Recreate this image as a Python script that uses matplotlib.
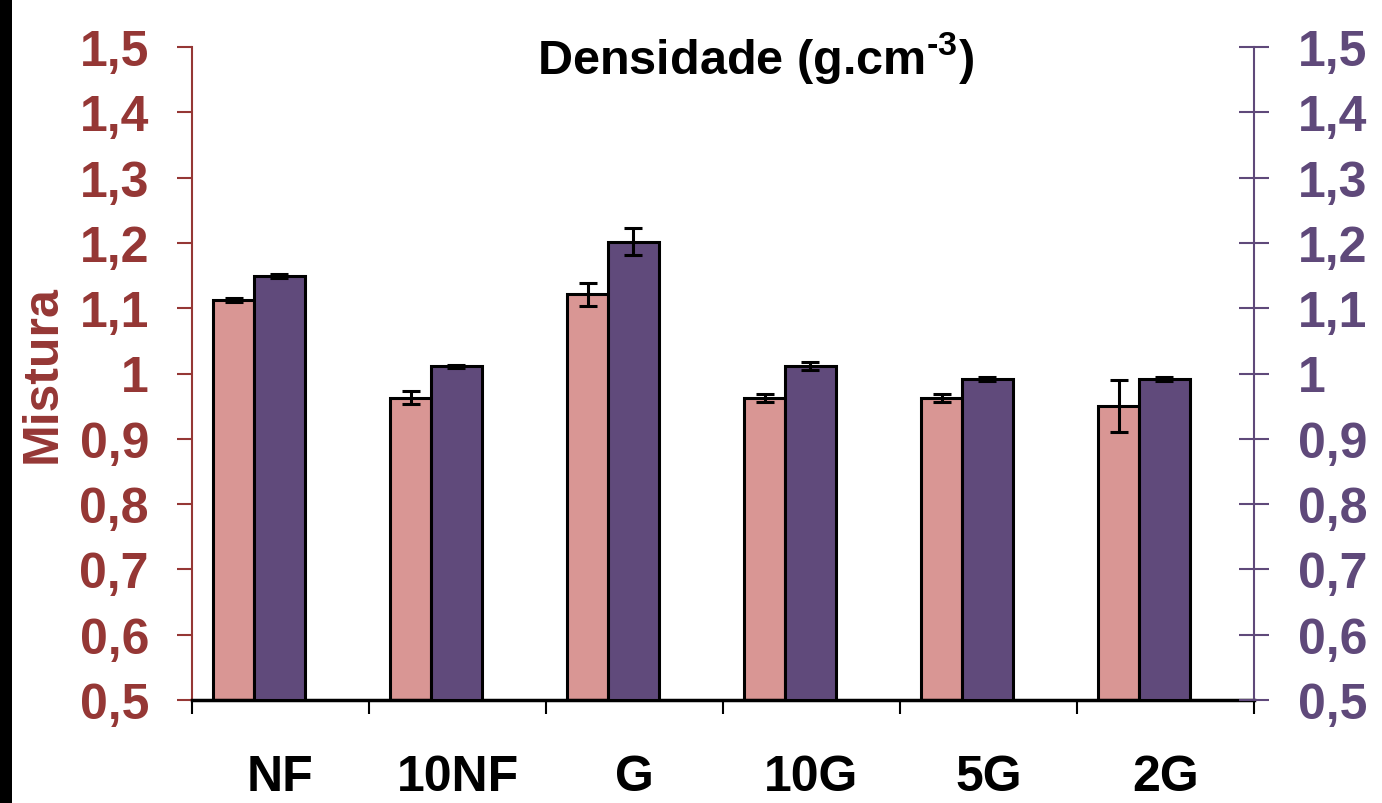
import matplotlib
matplotlib.use("Agg")
import matplotlib.pyplot as plt
from matplotlib.patches import Rectangle
import numpy as np

plt.rcParams['font.family'] = ['Liberation Sans', 'DejaVu Sans']
plt.rcParams['font.weight'] = 'bold'
plt.rcParams['mathtext.fontset'] = 'custom'
plt.rcParams['mathtext.bf'] = 'Liberation Sans:bold'
plt.rcParams['mathtext.rm'] = 'Liberation Sans:bold'

categorias = ['NF', '10NF', 'G', '10G', '5G', '2G']
mistura = [1.112, 0.963, 1.121, 0.962, 0.962, 0.950]
mistura_err = [0.003, 0.010, 0.018, 0.006, 0.006, 0.040]
serie2 = [1.149, 1.011, 1.202, 1.012, 0.992, 0.992]
serie2_err = [0.003, 0.002, 0.021, 0.006, 0.003, 0.003]
yticks = [0.5, 0.6, 0.7, 0.8, 0.9, 1.0, 1.1, 1.2, 1.3, 1.4, 1.5]

vermelho = '#953735'
roxo_txt = '#5F497A'
rosa = '#D99694'
roxo = '#604A7B'

def fmt(v):
    s = f'{v:.1f}'.replace('.', ',')
    return '1' if s == '1,0' else s

fig = plt.figure(figsize=(13.82, 8.04), dpi=100)
ax = fig.add_axes([192/1382, 1-701/804, (1254-192)/1382, (701-48)/804])
ax2 = ax.twinx()

x = np.arange(len(categorias))
ax.bar(x + 0.119, np.array(mistura) - 0.5, width=0.231, bottom=0.5, align='edge',
       color=rosa, edgecolor='black', linewidth=2.2)
ax.errorbar(x + 0.119 + 0.1155, mistura, yerr=mistura_err, fmt='none',
            ecolor='black', elinewidth=2.2, capsize=6.5, capthick=2.2, zorder=5)
ax2.bar(x + 0.35, np.array(serie2) - 0.5, width=0.288, bottom=0.5, align='edge',
        color=roxo, edgecolor='black', linewidth=2.2)
ax2.errorbar(x + 0.35 + 0.144, serie2, yerr=serie2_err, fmt='none',
             ecolor='black', elinewidth=2.2, capsize=6.5, capthick=2.2, zorder=5)

for a in (ax, ax2):
    a.set_xlim(0, len(categorias))
    a.set_ylim(0.5, 1.5)
    a.set_yticks(yticks)
    a.set_yticklabels([fmt(v) for v in yticks])
    a.spines['top'].set_visible(False)

ax.spines['right'].set_visible(False)
ax2.spines['left'].set_visible(False)
ax2.spines['bottom'].set_visible(False)
ax.spines['left'].set_color(vermelho)
ax.spines['left'].set_linewidth(1.5)
ax2.spines['right'].set_color(roxo_txt)
ax2.spines['right'].set_linewidth(1.5)
ax.spines['bottom'].set_color('black')
ax.spines['bottom'].set_linewidth(2.5)

ax.tick_params(axis='y', direction='out', length=11, width=1.5, color=vermelho,
               labelcolor=vermelho, labelsize=36, pad=20)
ax2.tick_params(axis='y', direction='inout', length=21, width=1.5, color=roxo_txt,
                labelcolor=roxo_txt, labelsize=36, pad=21)

ax.set_xticks(np.arange(len(categorias) + 1))
ax.set_xticklabels([])
ax.set_xticks(x + 0.5, minor=True)
ax.set_xticklabels(categorias, minor=True)
ax.tick_params(axis='x', which='major', direction='out', length=10, width=1.5, color='black')
ax.tick_params(axis='x', which='minor', length=0, labelsize=36, pad=39, labelcolor='black')

ax.set_ylabel('Mistura', color=vermelho, fontsize=36, fontweight='bold', labelpad=10)

fig.text(756/1382, 1-75/804, 'Densidade (g.cm$^{\\mathbf{\u2010 3}}$)', ha='center', va='baseline',
         fontsize=35, fontweight='bold', color='black')

fig.patches.append(Rectangle((0, 0), 12/1382, 1, transform=fig.transFigure,
                             facecolor='black', edgecolor='none'))

fig.savefig('out.png', dpi=100)
